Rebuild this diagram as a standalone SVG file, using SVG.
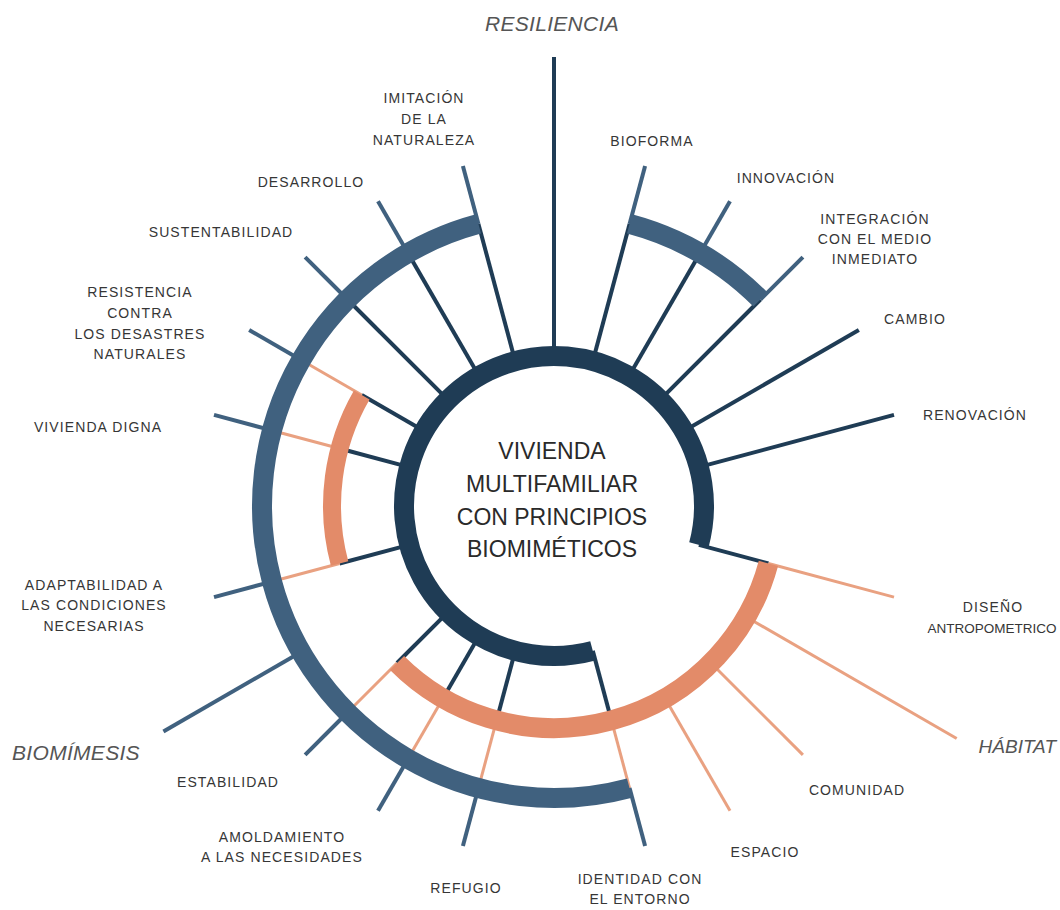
<svg xmlns="http://www.w3.org/2000/svg" width="1060" height="910" viewBox="0 0 1060 910">
<style>
.bg{fill:#ffffff}
.rd{stroke:#1f3c55;stroke-width:4;fill:none}
.rn{stroke:#40617f;stroke-width:4;fill:none}
.ro{stroke:#e9a181;stroke-width:3;fill:none}
.ringD{stroke:#1f3c55;stroke-width:20;fill:none}
.ringN{stroke:#40617f;stroke-width:20;fill:none}
.ringO{stroke:#e38b69;stroke-width:20;fill:none}
text{font-family:"Liberation Sans",Arial,sans-serif;text-anchor:middle}
.lbl{font-size:14px;fill:#363636;letter-spacing:1.1px}
.cat{font-size:21px;font-style:italic;fill:#555555;letter-spacing:0.3px}
.ctr{font-size:23px;fill:#2a2a2a}
</style>
<rect class="bg" x="0" y="0" width="1060" height="910"/>
<g id="connectors">
  <line class="rd" x1="554" y1="356" x2="554" y2="57"/>
  <line class="rd" x1="592.82" y1="361.11" x2="629.57" y2="223.96"/>
  <line class="rn" x1="629.57" y1="223.96" x2="645.10" y2="166"/>
  <line class="rd" x1="629" y1="376.1" x2="700" y2="253.13"/>
  <line class="rn" x1="700" y1="253.13" x2="730" y2="201.17"/>
  <line class="rd" x1="660.07" y1="399.93" x2="760.48" y2="299.52"/>
  <line class="rn" x1="760.48" y1="299.52" x2="802.9" y2="257.1"/>
  <line class="rd" x1="683.9" y1="431" x2="858.84" y2="330"/>
  <line class="rd" x1="698.89" y1="467.18" x2="894" y2="414.9"/>
  <line class="rd" x1="698.89" y1="544.82" x2="768.43" y2="563.46"/>
  <line class="ro" x1="768.43" y1="563.46" x2="894" y2="597.1"/>
  <line class="ro" x1="746.25" y1="617" x2="956.7" y2="738.5"/>
  <line class="ro" x1="710.98" y1="662.98" x2="802.9" y2="754.9"/>
  <line class="ro" x1="665" y1="698.25" x2="730" y2="810.83"/>
  <line class="rd" x1="592.82" y1="650.89" x2="611.46" y2="720.43"/>
  <line class="ro" x1="611.46" y1="720.43" x2="629.57" y2="788.04"/>
  <line class="rn" x1="629.57" y1="788.04" x2="645.10" y2="846"/>
  <line class="rd" x1="515.18" y1="650.89" x2="496.54" y2="720.43"/>
  <line class="ro" x1="496.54" y1="720.43" x2="478.43" y2="788.04"/>
  <line class="rn" x1="478.43" y1="788.04" x2="462.90" y2="846"/>
  <line class="rd" x1="479" y1="635.9" x2="443" y2="698.25"/>
  <line class="ro" x1="443" y1="698.25" x2="408" y2="758.87"/>
  <line class="rn" x1="408" y1="758.87" x2="378" y2="810.83"/>
  <line class="rd" x1="447.93" y1="612.07" x2="397.02" y2="662.98"/>
  <line class="ro" x1="397.02" y1="662.98" x2="347.52" y2="712.48"/>
  <line class="rn" x1="347.52" y1="712.48" x2="305.1" y2="754.9"/>
  <line class="rn" x1="301.13" y1="652" x2="163.43" y2="731.5"/>
  <line class="rd" x1="409.11" y1="544.82" x2="339.57" y2="563.46"/>
  <line class="ro" x1="339.57" y1="563.46" x2="271.96" y2="581.57"/>
  <line class="rn" x1="271.96" y1="581.57" x2="214" y2="597.1"/>
  <line class="rd" x1="409.11" y1="467.18" x2="339.57" y2="448.54"/>
  <line class="ro" x1="339.57" y1="448.54" x2="271.96" y2="430.43"/>
  <line class="rn" x1="271.96" y1="430.43" x2="214" y2="414.9"/>
  <line class="rd" x1="424.1" y1="431" x2="361.75" y2="395"/>
  <line class="ro" x1="361.75" y1="395" x2="301.13" y2="360"/>
  <line class="rn" x1="301.13" y1="360" x2="249.16" y2="330"/>
  <line class="rd" x1="447.93" y1="399.93" x2="347.52" y2="299.52"/>
  <line class="rn" x1="347.52" y1="299.52" x2="305.1" y2="257.1"/>
  <line class="rd" x1="479" y1="376.1" x2="408" y2="253.13"/>
  <line class="rn" x1="408" y1="253.13" x2="378" y2="201.17"/>
  <line class="rd" x1="515.18" y1="361.11" x2="478.43" y2="223.96"/>
  <line class="rn" x1="478.43" y1="223.96" x2="462.90" y2="166"/>
</g>
<g id="rings">
  <path class="ringN" d="M629.57,788.04 A292,292 0 0 1 271.96,581.57 A292,292 0 0 1 478.43,223.96"/>
  <path class="ringN" d="M629.57,223.96 A292,292 0 0 1 760.48,299.52"/>
  <path class="ringO" d="M768.43,563.46 A222,222 0 0 1 397.02,662.98"/>
  <path class="ringO" style="stroke-width:18" d="M339.57,563.46 A222,222 0 0 1 361.75,395"/>
  <path class="ringD" d="M592.82,650.89 A150,150 0 1 1 698.89,544.82"/>
</g>
<g id="center">
  <text class="ctr" x="552" y="459">VIVIENDA</text>
  <text class="ctr" x="552" y="492">MULTIFAMILIAR</text>
  <text class="ctr" x="552" y="525">CON PRINCIPIOS</text>
  <text class="ctr" x="552" y="557">BIOMIMÉTICOS</text>
</g>
<g id="cat-resiliencia"><text class="cat" x="552" y="31">RESILIENCIA</text></g>
<g id="cat-biomimesis"><text class="cat" x="76" y="760">BIOMÍMESIS</text></g>
<g id="cat-habitat"><text class="cat" x="1056" y="753" style="text-anchor:end;font-size:19px;letter-spacing:0">HÁBITAT</text></g>
<g id="n-imitacion"><text class="lbl" x="424" y="103">IMITACIÓN</text><text class="lbl" x="424" y="124">DE LA</text><text class="lbl" x="424" y="145">NATURALEZA</text></g>
<g id="n-bioforma"><text class="lbl" x="652" y="146">BIOFORMA</text></g>
<g id="n-desarrollo"><text class="lbl" x="311" y="187">DESARROLLO</text></g>
<g id="n-innovacion"><text class="lbl" x="786" y="183">INNOVACIÓN</text></g>
<g id="n-sustentabilidad"><text class="lbl" x="221" y="237">SUSTENTABILIDAD</text></g>
<g id="n-integracion"><text class="lbl" x="875" y="224">INTEGRACIÓN</text><text class="lbl" x="875" y="244">CON EL MEDIO</text><text class="lbl" x="875" y="264">INMEDIATO</text></g>
<g id="n-cambio"><text class="lbl" x="915" y="324">CAMBIO</text></g>
<g id="n-resistencia"><text class="lbl" x="140" y="297">RESISTENCIA</text><text class="lbl" x="140" y="318">CONTRA</text><text class="lbl" x="140" y="339">LOS DESASTRES</text><text class="lbl" x="140" y="359">NATURALES</text></g>
<g id="n-vivienda-digna"><text class="lbl" x="98" y="432">VIVIENDA DIGNA</text></g>
<g id="n-renovacion"><text class="lbl" x="975" y="420">RENOVACIÓN</text></g>
<g id="n-adaptabilidad"><text class="lbl" x="94" y="590">ADAPTABILIDAD A</text><text class="lbl" x="94" y="610">LAS CONDICIONES</text><text class="lbl" x="94" y="631">NECESARIAS</text></g>
<g id="n-diseno"><text class="lbl" x="993" y="612">DISEÑO</text><text class="lbl" x="992" y="633" style="font-size:13.5px;letter-spacing:0">ANTROPOMETRICO</text></g>
<g id="n-estabilidad"><text class="lbl" x="228" y="787">ESTABILIDAD</text></g>
<g id="n-comunidad"><text class="lbl" x="857" y="795">COMUNIDAD</text></g>
<g id="n-amoldamiento"><text class="lbl" x="282" y="842">AMOLDAMIENTO</text><text class="lbl" x="282" y="862">A LAS NECESIDADES</text></g>
<g id="n-espacio"><text class="lbl" x="765" y="857">ESPACIO</text></g>
<g id="n-refugio"><text class="lbl" x="466" y="893">REFUGIO</text></g>
<g id="n-identidad"><text class="lbl" x="640" y="884">IDENTIDAD CON</text><text class="lbl" x="640" y="904">EL ENTORNO</text></g>
</svg>
